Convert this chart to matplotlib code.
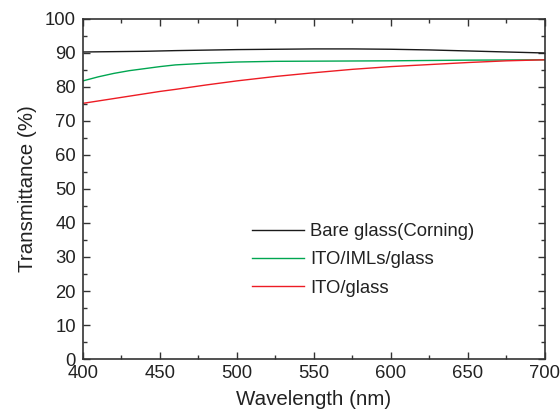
import matplotlib
matplotlib.use("Agg")
import matplotlib.pyplot as plt
import numpy as np
from matplotlib.ticker import MultipleLocator

plt.rcParams['font.family'] = ['Liberation Sans', 'DejaVu Sans']

wavelength = [400, 410, 420, 430, 440, 450, 460, 480, 500, 525, 550, 575, 600, 625, 650, 675, 700]
bare_glass = [90.3, 90.35, 90.4, 90.45, 90.5, 90.6, 90.7, 90.85, 91.0, 91.1, 91.2, 91.2, 91.1, 90.9, 90.6, 90.3, 90.0]
ito_imls = [81.8, 83.0, 84.0, 84.8, 85.4, 86.0, 86.5, 87.0, 87.35, 87.55, 87.6, 87.65, 87.7, 87.8, 87.9, 87.95, 88.0]
ito_glass = [75.2, 75.9, 76.6, 77.3, 78.0, 78.7, 79.3, 80.6, 81.8, 83.1, 84.2, 85.2, 86.0, 86.6, 87.2, 87.7, 88.0]

fig = plt.figure(figsize=(5.6, 4.13), dpi=100)
ax = fig.add_axes([83/560, 1 - 359/413, (545-83)/560, (359-19)/413])

ax.plot(wavelength, bare_glass, color='#1a1a1a', lw=1.0, label='Bare glass(Corning)')
ax.plot(wavelength, ito_imls, color='#00a651', lw=1.0, label='ITO/IMLs/glass')
ax.plot(wavelength, ito_glass, color='#ed1c24', lw=1.0, label='ITO/glass')

ax.set_xlim(400, 700)
ax.set_ylim(0, 100)
ax.xaxis.set_major_locator(MultipleLocator(50))
ax.xaxis.set_minor_locator(MultipleLocator(25))
ax.yaxis.set_major_locator(MultipleLocator(10))
ax.yaxis.set_minor_locator(MultipleLocator(5))
ax.tick_params(which='both', direction='in', top=True, right=True, labeltop=False, labelright=False,
               color='#333333', labelsize=13.3, labelcolor='#222222')
ax.tick_params(which='major', length=5, width=1)
ax.tick_params(which='minor', length=3, width=1)
ax.tick_params(axis='y', pad=5)
ax.tick_params(axis='x', pad=4)
for s in ax.spines.values():
    s.set_color('#333333')
    s.set_linewidth(1.2)

ax.set_xlabel('Wavelength (nm)', fontsize=14.8, color='#222222', labelpad=6)
ax.set_ylabel('Transmittance (%)', fontsize=14.8, color='#222222', labelpad=6)

leg = ax.legend(loc='upper left', bbox_to_anchor=((252-83)/462, (359-223)/340), frameon=False,
                fontsize=13.3, handlelength=2.8, handletextpad=0.35, labelspacing=0.62,
                borderaxespad=0, borderpad=0)
for t in leg.get_texts():
    t.set_color('#222222')

fig.savefig('out.png', dpi=100)
